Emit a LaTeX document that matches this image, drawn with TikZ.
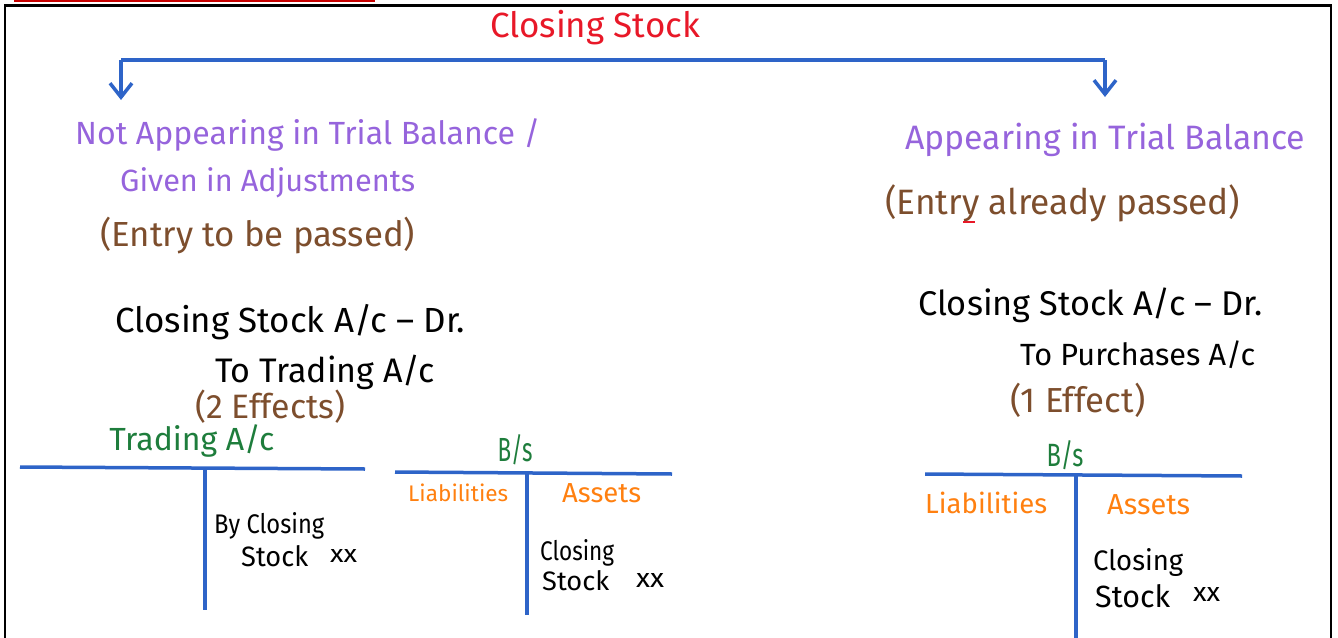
\documentclass[tikz,border=0pt]{standalone}
\usepackage{fontspec}
\usepackage{graphicx}
\setmainfont{Fira Sans}
\usetikzlibrary{arrows.meta}
\definecolor{inkblue}{RGB}{46,100,200}
\definecolor{inkred}{RGB}{232,24,40}
\definecolor{inkpurple}{RGB}{150,100,220}
\definecolor{inkbrown}{RGB}{125,78,45}
\definecolor{inkgreen}{RGB}{30,125,60}
\definecolor{inkorange}{RGB}{255,128,16}
\definecolor{barred}{RGB}{200,0,0}
% set a piece of text to a given width (in pt)
\newcommand{\spanto}[2]{\resizebox{#1pt}{!}{#2}}
% set a piece of text to a given width and height above the baseline (in pt)
\newcommand{\spanhw}[3]{\resizebox{#1pt}{#2pt}{#3}}
\tikzset{
  txt/.style={inner sep=0pt, anchor=west},
  heading/.style={txt, text=inkpurple, font=\fontsize{28}{30}\selectfont},
  note/.style={txt, text=inkbrown, font=\fontsize{28}{30}\selectfont},
  entry/.style={txt, text=black, font=\fontsize{27}{30}\selectfont},
  acname/.style={inner sep=0pt, text=inkgreen, font=\fontsize{25}{28}\selectfont},
  side/.style={txt, text=inkorange, font=\fontsize{21}{24}\selectfont},
  item/.style={txt, text=black, font=\fontsize{23}{26}\selectfont},
  tline/.style={draw=inkblue, line width=3.5pt},
  branch/.style={draw=inkblue, line width=3.5pt, line join=round,
    -{Straight Barb[length=14pt, width=22pt, line width=3.5pt]}},
}
\begin{document}
\begin{tikzpicture}[x=1pt, y=-1pt]
\useasboundingbox (0,0) rectangle (1338,637);
% page frame and heading bar
\draw[barred, line width=2.5pt] (14,1) -- (375,1);
\draw[black, line width=2.2pt] (5,640) -- (5,5.5) -- (1331,5.5) -- (1331,640);

% title and the two branches
\node[inner sep=0pt, text=inkred, font=\fontsize{30}{32}\selectfont] (title) at (595,28) {\spanto{210}{Closing Stock}};
\coordinate (lcorner) at (121,60);
\coordinate (rcorner) at (1105,60);
\coordinate (lend) at (121,100);
\coordinate (rend) at (1105,97);
\draw[tline] (lcorner) -- (rcorner);
\draw[branch] (lcorner) -- (lend);
\draw[branch] (rcorner) -- (rend);

% left branch: not appearing in trial balance
\node[heading] (nota) at (75,135) {\spanto{465}{Not Appearing in Trial Balance /}};
\node[heading] (notb) at (120,183) {\spanto{295}{Given in Adjustments}};
\node[note] (notc) at (100,235) {\spanto{315}{(Entry to be passed)}};
\node[entry] (le1) at (115,322) {\spanto{350}{Closing Stock A/c – Dr.}};
\node[entry] (le2) at (215,372) {\spanto{220}{To Trading A/c}};
\node[note] (le3) at (195,407) {\spanto{150}{(2 Effects)}};

% trading account
\node[acname] (trname) at (192,441) {\spanto{165}{Trading A/c}};
\coordinate (trl) at (20,467);
\coordinate (trr) at (365,469);
\coordinate (trt) at (205,467);
\coordinate (trb) at (205,610);
\draw[tline] (trl) -- (trr);
\draw[tline] (trt) -- (trb);
\node[item] (tr1) at (214,526) {\spanhw{110}{21}{By Closing}};
\node[item] (tr2) at (241,556) {\spanhw{67}{21}{Stock}};
\node[item] (tr3) at (330,556) {\spanhw{27}{13}{xx}};

% balance sheet (left)
\node[acname] (bsa) at (515,450) {\spanhw{35}{27}{B/s}};
\coordinate (bal) at (395,472);
\coordinate (bar) at (672,474);
\coordinate (bat) at (527,473);
\coordinate (bab) at (527,615);
\draw[tline] (bal) -- (bar);
\draw[tline] (bat) -- (bab);
\node[side] (bal1) at (408,493) {\spanto{100}{Liabilities}};
\node[side] (bal2) at (562,493) {\spanto{79}{Assets}};
\node[item] (ba1) at (540,553) {\spanhw{74}{21}{Closing}};
\node[item] (ba2) at (542,581) {\spanhw{67}{20}{Stock}};
\node[item] (ba3) at (636,580) {\spanhw{28}{14}{xx}};

% right branch: appearing in trial balance
\node[heading] (apa) at (905,140) {\spanto{400}{Appearing in Trial Balance}};
\node[note] (apb) at (885,203) {\spanto{355}{(Entry already passed)}};
\draw[inkred, line width=2.2pt] (963,222) -- (975,222);
\node[entry] (re1) at (918,305) {\spanto{344}{Closing Stock A/c – Dr.}};
\node[entry] (re2) at (1020,355) {\spanto{235}{To Purchases A/c}};
\node[note] (re3) at (1010,400) {\spanto{135}{(1 Effect)}};

% balance sheet (right)
\node[acname] (bsb) at (1065,455) {\spanhw{37}{26}{B/s}};
\coordinate (bbl) at (925,474);
\coordinate (bbr) at (1242,476);
\coordinate (bbt) at (1076,475);
\coordinate (bbb) at (1076,640);
\draw[tline] (bbl) -- (bbr);
\draw[tline] (bbt) -- (bbb);
\node[side] (bbl1) at (925,503) {\spanto{122}{Liabilities}};
\node[side] (bbl2) at (1107,505) {\spanto{83}{Assets}};
\node[item] (bb1) at (1093,562) {\spanhw{90}{22}{Closing}};
\node[item] (bb2) at (1095,596) {\spanhw{75}{23}{Stock}};
\node[item] (bb3) at (1193,594) {\spanhw{27}{14}{xx}};
\end{tikzpicture}
\end{document}
